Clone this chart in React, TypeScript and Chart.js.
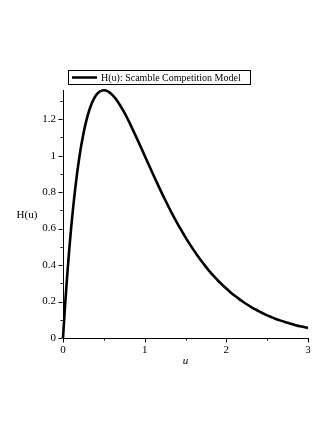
import React, { useEffect, useRef } from "react";
import { Chart, registerables } from "chart.js";

Chart.register(...registerables);

const uValues = [
  0, 0.025, 0.05, 0.075, 0.1, 0.15, 0.2, 0.25, 0.3, 0.35, 0.4, 0.45, 0.5, 0.55, 0.6, 0.65, 0.7, 0.75,
  0.8, 0.85, 0.9, 0.95, 1.0, 1.05, 1.1, 1.15, 1.2, 1.25, 1.3, 1.35, 1.4, 1.45, 1.5, 1.55, 1.6, 1.65,
  1.7, 1.75, 1.8, 1.85, 1.9, 1.95, 2.0, 2.05, 2.1, 2.15, 2.2, 2.25, 2.3, 2.35, 2.4, 2.45, 2.5, 2.55,
  2.6, 2.65, 2.7, 2.75, 2.8, 2.85, 2.9, 2.95, 3.0,
];
const hValues = [
  0, 0.176, 0.334, 0.477, 0.605, 0.821, 0.991, 1.12, 1.217, 1.284, 1.328, 1.352, 1.359, 1.353, 1.335,
  1.309, 1.275, 1.237, 1.194, 1.147, 1.099, 1.05, 1.0, 0.95, 0.901, 0.852, 0.804, 0.758, 0.713, 0.67,
  0.629, 0.59, 0.552, 0.516, 0.482, 0.45, 0.419, 0.39, 0.363, 0.338, 0.314, 0.292, 0.271, 0.251, 0.233,
  0.216, 0.2, 0.185, 0.171, 0.158, 0.146, 0.135, 0.124, 0.115, 0.106, 0.098, 0.09, 0.083, 0.077, 0.07,
  0.065, 0.06, 0.055,
];

const xMajorTicks = [0, 1, 2, 3];
const xMinorTicks = [0.5, 1.5, 2.5];
const yMajorTicks = [0, 0.2, 0.4, 0.6, 0.8, 1.0, 1.2];
const yMinorTicks = [0.1, 0.3, 0.5, 0.7, 0.9, 1.1, 1.3];

const seriesLabel = "H(u): Scamble Competition Model";
const xTitle = "u";
const yTitle = "H(u)";

const FONT = "'Liberation Serif', 'DejaVu Serif', serif";

const decorPlugin = {
  id: "decor",
  afterDraw(chart: any) {
    const ctx = chart.ctx;
    const xs = chart.scales.x;
    const ys = chart.scales.y;
    const area = chart.chartArea;
    ctx.save();
    ctx.strokeStyle = "#000";
    ctx.lineWidth = 1;
    const yl = Math.round(area.left) - 0.5;
    for (const v of yMajorTicks) {
      const p = Math.round(ys.getPixelForValue(v)) + 0.5;
      ctx.beginPath();
      ctx.moveTo(yl - 4, p);
      ctx.lineTo(yl, p);
      ctx.stroke();
    }
    for (const v of yMinorTicks) {
      const p = Math.round(ys.getPixelForValue(v)) + 0.5;
      ctx.beginPath();
      ctx.moveTo(yl - 2, p);
      ctx.lineTo(yl, p);
      ctx.stroke();
    }
    const xb = Math.round(area.bottom) + 0.5;
    for (const v of xMajorTicks) {
      const p = Math.round(xs.getPixelForValue(v)) + 0.5;
      ctx.beginPath();
      ctx.moveTo(p, xb);
      ctx.lineTo(p, xb + 4);
      ctx.stroke();
    }
    for (const v of xMinorTicks) {
      const p = Math.round(xs.getPixelForValue(v)) + 0.5;
      ctx.beginPath();
      ctx.moveTo(p, xb);
      ctx.lineTo(p, xb + 2);
      ctx.stroke();
    }
    ctx.fillStyle = "#000";
    ctx.font = `11px ${FONT}`;
    ctx.textAlign = "center";
    ctx.textBaseline = "middle";
    ctx.fillText(yTitle, 27, 215);
    ctx.font = `italic 11px ${FONT}`;
    ctx.fillText(xTitle, (area.left + area.right) / 2, 361);
    ctx.strokeStyle = "#000";
    ctx.lineWidth = 1;
    ctx.strokeRect(68.5, 70.5, 182, 14);
    ctx.lineWidth = 2.5;
    ctx.beginPath();
    ctx.moveTo(72, 77.5);
    ctx.lineTo(97, 77.5);
    ctx.stroke();
    ctx.font = `10px ${FONT}`;
    ctx.textAlign = "left";
    ctx.fillText(seriesLabel, 101, 78);
    ctx.restore();
  },
};

export default function App() {
  const ref = useRef<HTMLCanvasElement | null>(null);
  useEffect(() => {
    if (!ref.current) return;
    const chart = new Chart(ref.current, {
      type: "line",
      data: {
        datasets: [
          {
            label: seriesLabel,
            data: uValues.map((u, i) => ({ x: u, y: hValues[i] })),
            borderColor: "#000",
            borderWidth: 2.6,
            pointRadius: 0,
            cubicInterpolationMode: "monotone",
            fill: false,
            clip: 6,
          } as any,
        ],
      },
      options: {
        animation: false,
        responsive: false,
        events: [],
        layout: { padding: { top: 90, right: 28, left: 0, bottom: 0 } },
        plugins: { legend: { display: false }, tooltip: { enabled: false }, title: { display: false } },
        scales: {
          x: {
            type: "linear",
            min: 0,
            max: 3,
            afterFit: (s: any) => {
              s.height = 97;
            },
            afterBuildTicks: (s: any) => {
              s.ticks = xMajorTicks.map((v) => ({ value: v }));
            },
            grid: { display: false, drawTicks: false },
            border: { display: true, color: "#000", width: 1 },
            ticks: {
              padding: 6,
              color: "#000",
              font: { family: FONT, size: 11 },
              maxRotation: 0,
              autoSkip: false,
              callback: (v: any) => String(v),
            },
          },
          y: {
            type: "linear",
            min: 0,
            max: 1.36,
            afterFit: (s: any) => {
              s.width = 63;
            },
            afterBuildTicks: (s: any) => {
              s.ticks = yMajorTicks.map((v) => ({ value: v }));
            },
            grid: { display: false, drawTicks: false },
            border: { display: true, color: "#000", width: 1 },
            ticks: {
              padding: 7,
              color: "#000",
              font: { family: FONT, size: 11 },
              autoSkip: false,
              callback: (v: any) => String(Math.round(v * 10) / 10),
            },
          },
        },
      },
      plugins: [decorPlugin],
    });
    return () => chart.destroy();
  }, []);
  return (
    <div style={{ position: "fixed", left: 0, top: 0, width: 336, height: 435, background: "#fff" }}>
      <canvas ref={ref} width={336} height={435} style={{ width: 336, height: 435, display: "block" }} />
    </div>
  );
}
